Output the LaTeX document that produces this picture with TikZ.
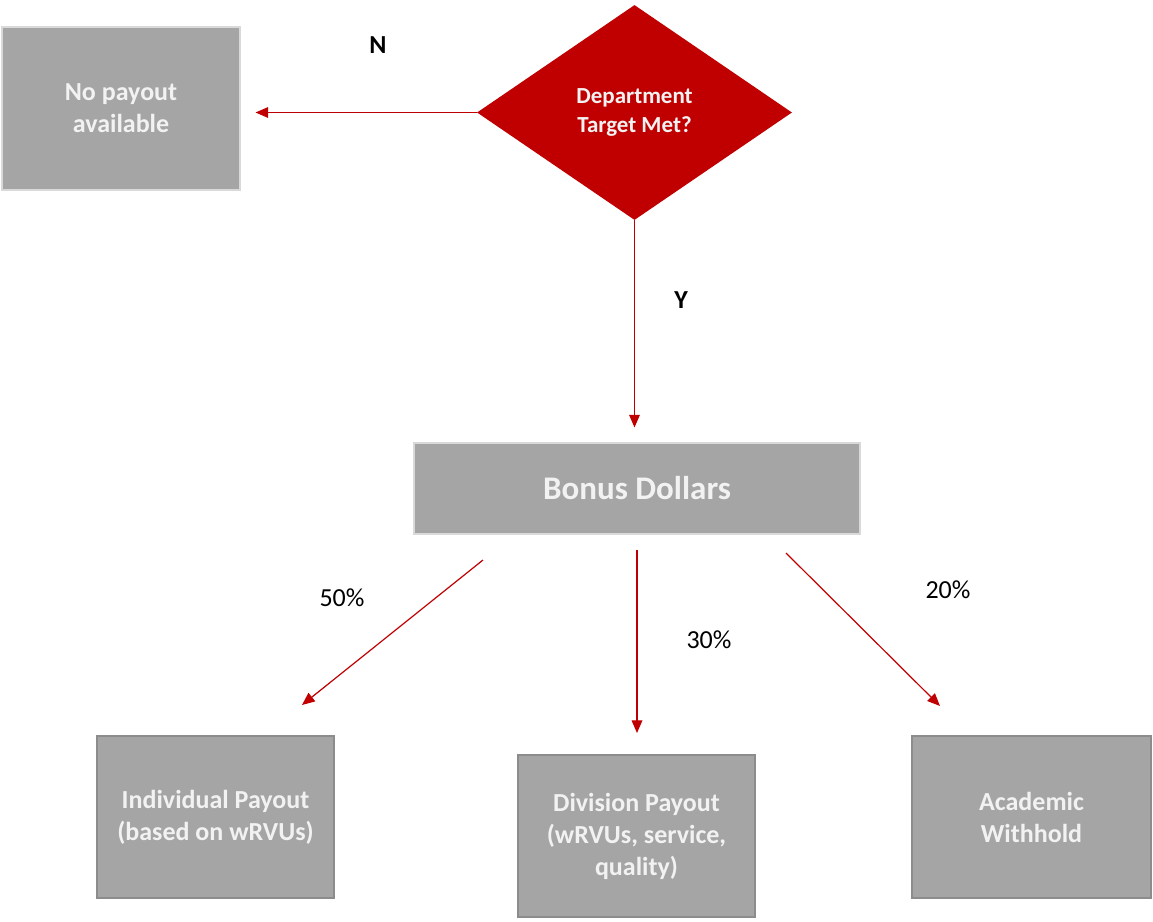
\documentclass[tikz,border=0pt]{standalone}
\usepackage{fontspec}
\setmainfont{Carlito}
\usetikzlibrary{shapes.geometric,arrows.meta}
\definecolor{boxgray}{HTML}{A5A5A5}
\definecolor{darkred}{HTML}{C00000}
\definecolor{lightedge}{HTML}{D9D9D9}
\definecolor{darkedge}{HTML}{8C8C8C}
\definecolor{paletext}{HTML}{F2F2F2}

\begin{document}
\begin{tikzpicture}[x=0.75pt,y=-0.75pt,
    box/.style={rectangle,draw=lightedge,line width=0.8pt,fill=boxgray,text=paletext,align=center,inner sep=0pt,font=\fontsize{19.5}{24}\selectfont\bfseries},
    lowbox/.style={box,draw=darkedge},
    dec/.style={diamond,fill=darkred,text=paletext,align=center,inner sep=0pt,font=\fontsize{17.25}{21.5}\selectfont\bfseries},
    flow/.style={draw=darkred,line width=0.9pt,-{Triangle[length=9.5pt,width=8pt]}},
    lbl/.style={font=\fontsize{19.5}{24}\selectfont}]
    \useasboundingbox (0,0) rectangle (1153,921);

    \node[box,minimum width=178.5pt,minimum height=122.25pt] (nopay) at (121,108.5) {No payout\\available};
    \node[dec,minimum width=236.25pt,minimum height=161.25pt] (dept) at (634.5,112.5) {Department\\Target Met?};
    \node[box,minimum width=334.5pt,minimum height=68.25pt,font=\fontsize{24.75}{30}\selectfont\bfseries] (bonus) at (637,488.5) {Bonus Dollars};
    \node[lowbox,minimum width=177.75pt,minimum height=121.5pt] (indiv) at (215.5,817) {Individual Payout\\(based on wRVUs)};
    \node[lowbox,minimum width=177.75pt,minimum height=121.5pt] (div) at (636.5,836) {Division Payout\\(wRVUs, service,\\quality)};
    \node[lowbox,minimum width=179.25pt,minimum height=121.5pt] (acad) at (1031.5,817) {Academic\\Withhold};

    % loose arrow ends below Bonus Dollars
    \coordinate (s1) at (483,560);
    \coordinate (e1) at (302,705);
    \coordinate (s2) at (637,550);
    \coordinate (e2) at (637,733);
    \coordinate (s3) at (786,553);
    \coordinate (e3) at (940,706);

    \draw[flow,shorten >=11.25pt] (dept.west) -- (dept.west -| nopay.east);
    \draw[flow,shorten >=11.25pt] (dept.south) -- (dept.south |- bonus.north);
    \draw[flow] (s1) -- (e1);
    \draw[flow] (s2) -- (e2);
    \draw[flow] (s3) -- (e3);

    \node[lbl,font=\fontsize{19.5}{24}\selectfont\bfseries] (n) at (378,45) {N};
    \node[lbl,font=\fontsize{19.5}{24}\selectfont\bfseries] (y) at (681,300) {Y};
    \node[lbl] (p50) at (342,598) {50\%};
    \node[lbl] (p30) at (709,640) {30\%};
    \node[lbl] (p20) at (948,590) {20\%};
\end{tikzpicture}
\end{document}
